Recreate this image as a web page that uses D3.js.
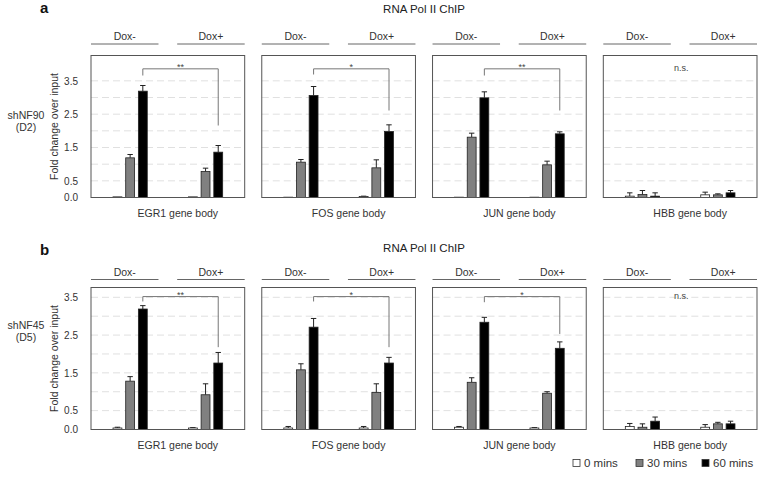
<!DOCTYPE html>
<html>
<head>
<meta charset="utf-8">
<script src="https://cdn.jsdelivr.net/npm/d3@7"></script>
<style>
  html, body { margin: 0; padding: 0; background: #fff; }
  svg { display: block; font-family: "Liberation Sans", Arial, Helvetica, sans-serif; }
</style>
</head>
<body>
<svg id="chart" width="760" height="479"></svg>
<script>
// ---------- DATA ----------
const genes = ["EGR1", "FOS", "JUN", "HBB"];
const geneLabels = ["EGR1 gene body", "FOS gene body", "JUN gene body", "HBB gene body"];
const conditions = ["Dox-", "Dox+"];
const times = ["0 mins", "30 mins", "60 mins"];
const gridValues = [0.5, 1.0, 1.5, 2.0, 2.5, 3.0, 3.5];
const tickValues = [0.0, 0.5, 1.5, 2.5, 3.5];

// Panel a (shNF90, D2): means[gene][condition][time]
const meansA = [
  [[0.02, 1.19, 3.19], [0.02, 0.78, 1.36]],
  [[0.01, 1.06, 3.06], [0.03, 0.89, 1.98]],
  [[0.01, 1.81, 2.99], [0.01, 0.98, 1.91]],
  [[0.04, 0.09, 0.04], [0.08, 0.08, 0.14]]
];
const errorsA = [
  [[0.00, 0.10, 0.17], [0.00, 0.10, 0.20]],
  [[0.00, 0.08, 0.27], [0.01, 0.24, 0.20]],
  [[0.00, 0.12, 0.18], [0.00, 0.11, 0.06]],
  [[0.10, 0.12, 0.10], [0.08, 0.03, 0.07]]
];
// brackets: [label, bracket level, left leg end, right leg end]
const sigA = [["**", 3.86, 3.66, 2.16], ["*", 3.86, 3.69, 2.61], ["**", 3.86, 3.66, 2.61], ["n.s.", 3.86, null, null]];

// Panel b (shNF45, D5)
const meansB = [
  [[0.04, 1.28, 3.19], [0.04, 0.92, 1.76]],
  [[0.04, 1.58, 2.71], [0.04, 0.98, 1.76]],
  [[0.06, 1.25, 2.84], [0.04, 0.96, 2.15]],
  [[0.08, 0.06, 0.22], [0.06, 0.15, 0.15]]
];
const errorsB = [
  [[0.02, 0.12, 0.09], [0.01, 0.29, 0.28]],
  [[0.04, 0.16, 0.23], [0.04, 0.23, 0.15]],
  [[0.02, 0.12, 0.13], [0.01, 0.04, 0.17]],
  [[0.08, 0.09, 0.11], [0.07, 0.04, 0.07]]
];
const sigB = [["**", 3.52, 3.39, 2.18], ["*", 3.52, 3.39, 2.18], ["*", 3.52, 3.37, 2.53], ["n.s.", 3.52, null, null]];

// ---------- LAYOUT ----------
const panels = [
  { letter: "a", sh: "shNF90", day: "(D2)", top: 55.5, bottom: 197.5, ymax: 4.26,
    means: meansA, errors: errorsA, sig: sigA,
    letterY: 13, titleY: 13, headLine: 44, headText: 40, shY: 119 },
  { letter: "b", sh: "shNF45", day: "(D5)", top: 287.5, bottom: 429.5, ymax: 3.76,
    means: meansB, errors: errorsB, sig: sigB,
    letterY: 255, titleY: 252, headLine: 279.5, headText: 276, shY: 329 }
];
const fills = ["#ffffff", "#808080", "#000000"];
const textColor = "#333";

const svg = d3.select("#chart");

const boxX = d3.scaleBand().domain(genes).range([91, 757]).paddingInner(0.1);
const bw = boxX.bandwidth();
const condX = d3.scaleBand().domain(conditions).range([0, bw]).paddingInner(0.546).paddingOuter(0.292);
const timeX = d3.scaleBand().domain(times).range([0, condX.bandwidth()]).paddingInner(0.3);
const headX = d3.scaleBand().domain(conditions).range([0, bw]).paddingInner(0.217);

panels.forEach(p => {
  const y = d3.scaleLinear().domain([0, p.ymax]).range([p.bottom, p.top]);

  svg.append("text").attr("x", 40).attr("y", p.letterY)
    .attr("font-size", 15).attr("font-weight", "bold").attr("fill", "#111").text(p.letter);
  svg.append("text").attr("x", (boxX("FOS") + bw + boxX("JUN")) / 2).attr("y", p.titleY)
    .attr("text-anchor", "middle").attr("font-size", 11.5).attr("fill", "#222").text("RNA Pol II ChIP");

  svg.append("text").attr("x", 26).attr("y", p.shY).attr("text-anchor", "middle")
    .attr("font-size", 10.5).attr("fill", textColor).text(p.sh);
  svg.append("text").attr("x", 26).attr("y", p.shY + 12).attr("text-anchor", "middle")
    .attr("font-size", 10.5).attr("fill", textColor).text(p.day);

  svg.append("text")
    .attr("transform", `translate(57.5,${(p.top + p.bottom) / 2}) rotate(-90)`)
    .attr("text-anchor", "middle").attr("font-size", 10.5).attr("fill", textColor)
    .text("Fold change over input");

  // y axis labels
  const axis = d3.axisLeft(y).tickValues(tickValues).tickFormat(d3.format(".1f")).tickSize(0).tickPadding(13);
  const ag = svg.append("g").attr("transform", `translate(${boxX(genes[0])},0)`).call(axis);
  ag.select(".domain").remove();
  ag.selectAll("text").attr("font-size", 10).attr("fill", textColor)
    .attr("font-family", "'Liberation Sans', Arial, Helvetica, sans-serif");

  genes.forEach((gene, gi) => {
    const g = svg.append("g").attr("transform", `translate(${boxX(gene)},0)`);

    // gridlines
    g.selectAll("line.grid").data(gridValues).enter().append("line")
      .attr("x1", 0).attr("x2", bw).attr("y1", d => y(d)).attr("y2", d => y(d))
      .attr("stroke", "#d8d8d8").attr("stroke-width", 0.8).attr("stroke-dasharray", "7,4");

    // headers
    conditions.forEach(c => {
      g.append("line").attr("x1", headX(c)).attr("x2", headX(c) + headX.bandwidth())
        .attr("y1", p.headLine).attr("y2", p.headLine).attr("stroke", "#666").attr("stroke-width", 1);
      g.append("text").attr("x", headX(c) + headX.bandwidth() / 2).attr("y", p.headText)
        .attr("text-anchor", "middle").attr("font-size", 10.5).attr("fill", textColor).text(c);
    });

    // bars
    conditions.forEach((c, ci) => {
      times.forEach((t, ti) => {
        const m = p.means[gi][ci][ti];
        const e = p.errors[gi][ci][ti];
        const x0 = condX(c) + timeX(t);
        const cx = x0 + timeX.bandwidth() / 2;
        if (e > 0) {
          g.append("line").attr("x1", cx).attr("x2", cx).attr("y1", y(m)).attr("y2", y(m + e))
            .attr("stroke", "#222").attr("stroke-width", 1);
          g.append("line").attr("x1", cx - 2.7).attr("x2", cx + 2.7).attr("y1", y(m + e)).attr("y2", y(m + e))
            .attr("stroke", "#222").attr("stroke-width", 1);
        }
        g.append("rect").attr("x", x0).attr("y", y(m)).attr("width", timeX.bandwidth())
          .attr("height", y(0) - y(m)).attr("fill", fills[ti])
          .attr("stroke", "#222").attr("stroke-width", 0.8);
      });
    });

    // box
    g.append("rect").attr("x", 0).attr("y", p.top).attr("width", bw).attr("height", p.bottom - p.top)
      .attr("fill", "none").attr("stroke", "#555").attr("stroke-width", 1);

    // significance
    const s = p.sig[gi];
    const xl = condX("Dox-") + timeX("60 mins") + timeX.bandwidth() / 2;
    const xr = condX("Dox+") + timeX("60 mins") + timeX.bandwidth() / 2;
    if (s[2] !== null) {
      g.append("path")
        .attr("d", `M${xl},${y(s[2])}V${y(s[1])}H${xr}V${y(s[3])}`)
        .attr("fill", "none").attr("stroke", "#777").attr("stroke-width", 1);
      g.append("text").attr("x", (xl + xr) / 2).attr("y", y(s[1]) + 1.5)
        .attr("text-anchor", "middle").attr("font-size", 9).attr("fill", "#444").text(s[0]);
    } else {
      g.append("text").attr("x", bw / 2 + 1).attr("y", y(s[1]) + 2)
        .attr("text-anchor", "middle").attr("font-size", 9).attr("fill", "#444").text(s[0]);
    }

    // gene label
    g.append("text").attr("x", bw / 2 + 10).attr("y", p.bottom + 19.5)
      .attr("text-anchor", "middle").attr("font-size", 10.5).attr("fill", textColor).text(geneLabels[gi]);
  });
});

// legend
const legendX = [573, 636, 702];
times.forEach((t, i) => {
  svg.append("rect").attr("x", legendX[i]).attr("y", 459.5).attr("width", 7).attr("height", 7)
    .attr("fill", fills[i]).attr("stroke", "#333").attr("stroke-width", 0.8);
  svg.append("text").attr("x", legendX[i] + 11).attr("y", 467)
    .attr("font-size", 11.5).attr("fill", textColor).text(t);
});
</script>
</body>
</html>
